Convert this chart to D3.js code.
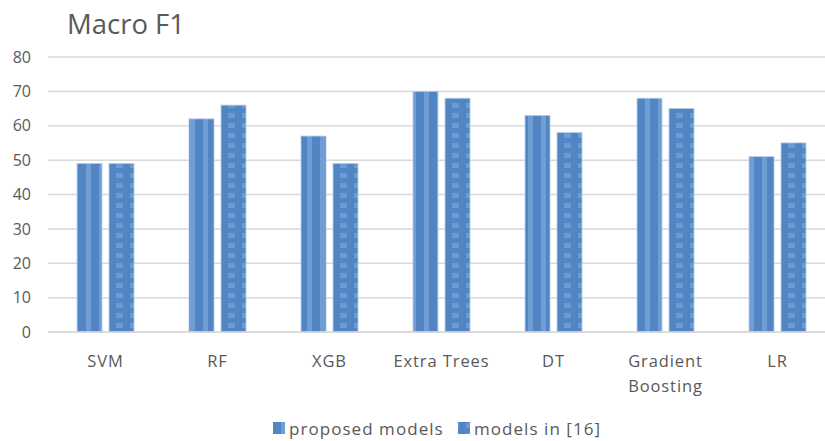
<!DOCTYPE html>
<html><head><meta charset="utf-8">
<script src="https://cdn.jsdelivr.net/npm/d3@7"></script>
<style>body{margin:0;background:#fff;} svg{display:block;}</style>
</head><body>
<svg id="chart" width="825" height="441"></svg>
<script>
const categories = ["SVM", "RF", "XGB", "Extra Trees", "DT", "Gradient Boosting", "LR"];
const seriesNames = ["proposed models", "models in [16]"];
const proposed = [49, 62, 57, 70, 63, 68, 51];
const models16 = [49, 66, 49, 68, 58, 65, 55];
const yTicks = [0, 10, 20, 30, 40, 50, 60, 70, 80];

const svg = d3.select("#chart");
const font = "'Open Sans', 'Noto Sans', sans-serif";
const textColor = "#595959";

const defs = svg.append("defs");
const dark = "#5285c4", light = "#78a3d8";
const p1 = defs.append("pattern").attr("id", "pat1").attr("patternUnits", "userSpaceOnUse")
  .attr("width", 13).attr("height", 10);
p1.append("rect").attr("width", 13).attr("height", 10).attr("fill", dark);
p1.append("rect").attr("x", 8).attr("width", 5).attr("height", 10).attr("fill", light).attr("opacity", 0.8);
const p2 = defs.append("pattern").attr("id", "pat2").attr("patternUnits", "userSpaceOnUse")
  .attr("width", 14).attr("height", 10);
p2.append("rect").attr("width", 14).attr("height", 10).attr("fill", dark);
p2.append("rect").attr("x", 4).attr("y", 3).attr("width", 7).attr("height", 5).attr("fill", light).attr("opacity", 0.7);

const x = d3.scaleBand().domain(categories).range([49.5, 833.5]);
const y = d3.scaleLinear().domain([0, 80]).range([332, 57]);

// gridlines
svg.append("g").selectAll("line").data(yTicks).join("line")
  .attr("x1", 48).attr("x2", 825)
  .attr("y1", d => y(d)).attr("y2", d => y(d))
  .attr("stroke", "#d9d9d9").attr("stroke-width", 1.5);

// y axis labels
const yAxis = d3.axisLeft(y).tickValues(yTicks).tickSize(0).tickPadding(0);
const yg = svg.append("g").attr("transform", "translate(31,0)").call(yAxis);
yg.select(".domain").remove();
yg.selectAll("text").attr("font-family", font).attr("font-size", 16).attr("fill", textColor);

// bars
const barW = 25, gap = 7;
const data = [proposed, models16];
data.forEach((vals, si) => {
  svg.append("g").selectAll("rect").data(vals).join("rect")
    .attr("x", (d, i) => x(categories[i]) + x.bandwidth() / 2 - barW - gap / 2 + si * (barW + gap))
    .attr("y", d => y(d))
    .attr("width", barW)
    .attr("height", d => y(0) - y(d))
    .attr("fill", `url(#pat${si + 1})`)
    .attr("stroke", "#b3cbea").attr("stroke-width", 0.8);
});

// baseline
svg.append("line").attr("x1", 48).attr("x2", 825).attr("y1", y(0)).attr("y2", y(0))
  .attr("stroke", "#d9d9d9").attr("stroke-width", 1.5);

// category labels
const xg = svg.append("g");
categories.forEach(c => {
  const words = c === "Gradient Boosting" ? ["Gradient", "Boosting"] : [c];
  const t = xg.append("text").attr("x", x(c) + x.bandwidth() / 2).attr("y", 367)
    .attr("text-anchor", "middle").attr("font-family", font).attr("font-size", 16.5)
    .attr("letter-spacing", 0.9).attr("fill", textColor);
  words.forEach((w, i) => t.append("tspan").attr("x", x(c) + x.bandwidth() / 2).attr("dy", i ? 25 : 0).text(w));
});

// title
svg.append("text").attr("x", 67).attr("y", 34).attr("font-family", font).attr("font-size", 27.5)
  .attr("fill", textColor).text("Macro F1");

// legend
const legendX = [273, 458];
seriesNames.forEach((n, i) => {
  svg.append("rect").attr("x", legendX[i]).attr("y", 422).attr("width", 12).attr("height", 12)
    .attr("fill", `url(#pat${i + 1})`);
  svg.append("text").attr("x", legendX[i] + 16).attr("y", 435).attr("font-family", font)
    .attr("font-size", 17).attr("letter-spacing", 1.05).attr("fill", textColor).text(n);
});
</script>
</body></html>
